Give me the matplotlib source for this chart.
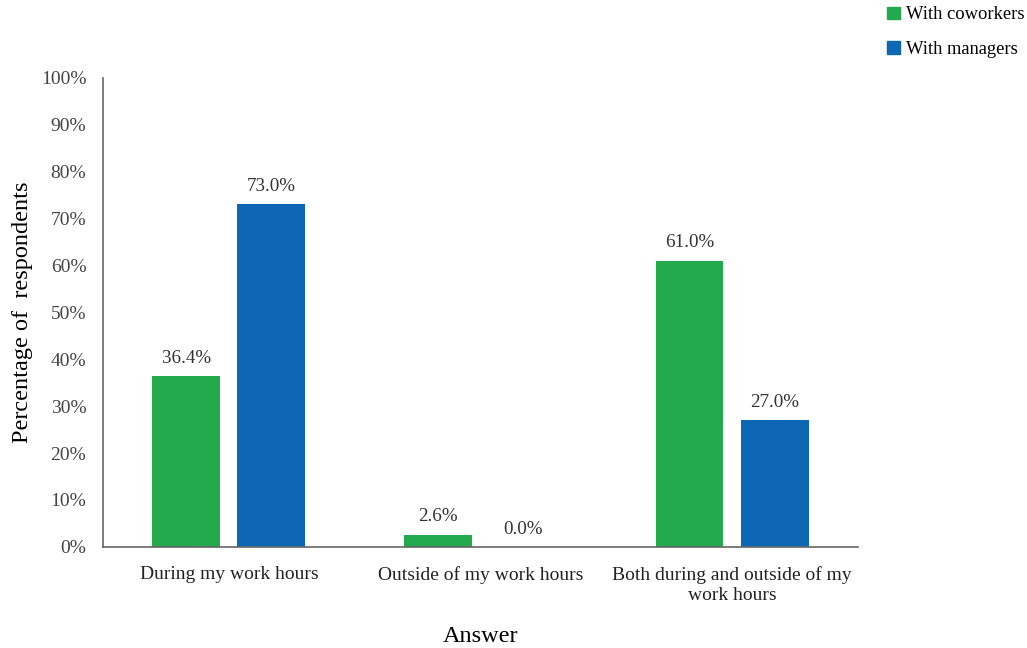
import numpy as np
import matplotlib.pyplot as plt
from matplotlib.patches import Patch

plt.rcParams['font.family'] = ['Liberation Serif', 'DejaVu Serif']

categorias = ['During my work hours', 'Outside of my work hours',
              'Both during and outside of my\nwork hours']
coworkers = [36.4, 2.6, 61.0]
managers = [73.0, 0.0, 27.0]
yticks = np.arange(0, 101, 10)

verde = '#23a94e'
azul = '#0d67b5'

fig = plt.figure(figsize=(10.27, 6.48), dpi=100)
ax = fig.add_axes([0.1003, 0.156, 0.735, 0.724])

x = np.arange(len(categorias))
ancho = 0.27
desp = 0.169
b1 = ax.bar(x - desp, coworkers, ancho, color=verde)
b2 = ax.bar(x + desp, managers, ancho, color=azul)

# etiquetas de valor sobre cada barra
for barras, vals in ((b1, coworkers), (b2, managers)):
    for b, v in zip(barras, vals):
        ax.text(b.get_x() + b.get_width() / 2, v + 2.0, f'{v:.1f}%',
                ha='center', va='bottom', fontsize=13.7, color='#333333')

ax.set_xlim(-0.5, 2.5)
ax.set_ylim(0, 100)
ax.set_yticks(yticks)
ax.set_yticklabels([f'{t}%' for t in yticks], fontsize=14, color='#444444')
ax.set_xticks(x)
ax.set_xticklabels(categorias, fontsize=14, color='#222222', linespacing=1.2)
ax.tick_params(axis='y', length=0, pad=12)
ax.tick_params(axis='x', length=0, pad=14)

for s in ('top', 'right'):
    ax.spines[s].set_visible(False)
for s in ('left', 'bottom'):
    ax.spines[s].set_color('#666666')
    ax.spines[s].set_linewidth(1.2)

ax.set_ylabel('Percentage of  respondents', fontsize=17.5)
ax.yaxis.set_label_coords(-0.093, 0.5)
ax.set_xlabel('Answer', fontsize=17.5)
ax.xaxis.set_label_coords(0.5, -0.168)

handles = [Patch(color=verde, label='With coworkers'),
           Patch(color=azul, label='With managers')]
fig.legend(handles=handles, loc='upper left', bbox_to_anchor=(0.864, 0.99),
           frameon=False, fontsize=13.3, handlelength=0.7, handleheight=0.7,
           handletextpad=0.3, labelspacing=0.95, borderpad=0,
           borderaxespad=0)

fig.savefig('out.png', dpi=100)
